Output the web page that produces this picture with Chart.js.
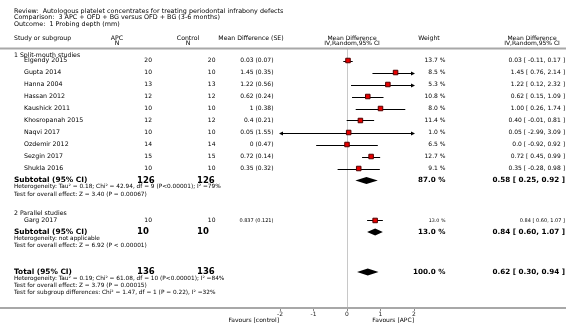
<!DOCTYPE html>
<html>
<head>
<meta charset="utf-8">
<script src="https://cdn.jsdelivr.net/npm/chart.js@4.4.0/dist/chart.umd.min.js"></script>
<style>
  html, body { margin: 0; padding: 0; background: #fff; }
  #forest { display: block; }
</style>
</head>
<body>
<canvas id="forest" width="566" height="332"></canvas>
<script>
// ---- data ----
var titleLines = [
  'Review:  Autologous platelet concentrates for treating periodontal infrabony defects',
  'Comparison:  3 APC + OFD + BG versus OFD + BG (3-6 months)',
  'Outcome:  1 Probing depth (mm)'
];

var studies = ['Elgendy 2015', 'Gupta 2014', 'Hanna 2004', 'Hassan 2012', 'Kaushick 2011',
  'Khosropanah 2015', 'Naqvi 2017', 'Ozdemir 2012', 'Sezgin 2017', 'Shukla 2016', 'Garg 2017'];
var apcN = [20, 10, 13, 12, 10, 12, 10, 14, 15, 10, 10];
var controlN = [20, 10, 13, 12, 10, 12, 10, 14, 15, 10, 10];
var mdSeText = ['0.03 (0.07)', '1.45 (0.35)', '1.22 (0.56)', '0.62 (0.24)', '1 (0.38)',
  '0.4 (0.21)', '0.05 (1.55)', '0 (0.47)', '0.72 (0.14)', '0.35 (0.32)', '0.837 (0.121)'];
var meanDiff = [0.03, 1.45, 1.22, 0.62, 1.00, 0.40, 0.05, 0.0, 0.72, 0.35, 0.84];
var ciLow = [-0.11, 0.76, 0.12, 0.15, 0.26, -0.01, -2.99, -0.92, 0.45, -0.28, 0.60];
var ciHigh = [0.17, 2.14, 2.32, 1.09, 1.74, 0.81, 3.09, 0.92, 0.99, 0.98, 1.07];
var weights = [13.7, 8.5, 5.3, 10.8, 8.0, 11.4, 1.0, 6.5, 12.7, 9.1, 13.0];
var ciText = ['0.03 [ -0.11, 0.17 ]', '1.45 [ 0.76, 2.14 ]', '1.22 [ 0.12, 2.32 ]',
  '0.62 [ 0.15, 1.09 ]', '1.00 [ 0.26, 1.74 ]', '0.40 [ -0.01, 0.81 ]', '0.05 [ -2.99, 3.09 ]',
  '0.0 [ -0.92, 0.92 ]', '0.72 [ 0.45, 0.99 ]', '0.35 [ -0.28, 0.98 ]', '0.84 [ 0.60, 1.07 ]'];

var pooledLabels = ['Subtotal (95% CI)', 'Subtotal (95% CI)', 'Total (95% CI)'];
var pooledApcN = [126, 10, 136];
var pooledControlN = [126, 10, 136];
var pooledMean = [0.58, 0.84, 0.62];
var pooledLow = [0.25, 0.60, 0.30];
var pooledHigh = [0.92, 1.07, 0.94];
var pooledWeight = ['87.0 %', '13.0 %', '100.0 %'];
var pooledCiText = ['0.58 [ 0.25, 0.92 ]', '0.84 [ 0.60, 1.07 ]', '0.62 [ 0.30, 0.94 ]'];

var groupNames = ['1 Split-mouth studies', '2 Parallel studies'];
var noteLines = [
  ['Heterogeneity: Tau\u00b2 = 0.18; Chi\u00b2 = 42.94, df = 9 (P<0.00001); I\u00b2 =79%',
   'Test for overall effect: Z = 3.40 (P = 0.00067)'],
  ['Heterogeneity: not applicable',
   'Test for overall effect: Z = 6.92 (P < 0.00001)'],
  ['Heterogeneity: Tau\u00b2 = 0.19; Chi\u00b2 = 61.08, df = 10 (P<0.00001); I\u00b2 =84%',
   'Test for overall effect: Z = 3.79 (P = 0.00015)',
   'Test for subgroup differences: Chi\u00b2 = 1.47, df = 1 (P = 0.22), I\u00b2 =32%']
];
var xTicks = [-2, -1, 0, 1, 2];
var favoursLeft = 'Favours [control]';
var favoursRight = 'Favours [APC]';

// ---- layout (row positions in line units, 1 unit = 12px) ----
var studyRows = [1, 2, 3, 4, 5, 6, 7, 8, 9, 10, 14.33];
var pooledRows = [11, 15.3, 18.62];
var groupRows = [0.55, 13.7];
var noteRows = [[11.5, 12.2], [15.85, 16.4], [19.2, 19.72, 20.35]];

var FONT = "'DejaVu Sans', Verdana, sans-serif";

var squares = studies.map(function (s, i) {
  return { x: meanDiff[i], y: studyRows[i] };
});

function font(size, bold) {
  return (bold ? 'bold ' : '') + size + 'px ' + FONT;
}

function txt(ctx, s, x, y, align, size, bold) {
  ctx.font = font(size, bold);
  ctx.textAlign = align;
  ctx.textBaseline = 'middle';
  ctx.fillText(s, x, y);
}

var forestPlugin = {
  id: 'forest',
  beforeDraw: function (chart) {
    var ctx = chart.ctx;
    ctx.save();
    ctx.fillStyle = '#fff';
    ctx.fillRect(0, 0, chart.width, chart.height);
    ctx.restore();
  },
  beforeDatasetsDraw: function (chart) {
    var ctx = chart.ctx, xs = chart.scales.x, ys = chart.scales.y, area = chart.chartArea;
    ctx.save();
    // line of no effect
    ctx.strokeStyle = '#c8c8c8';
    ctx.lineWidth = 1;
    var x0 = Math.round(xs.getPixelForValue(0)) + 0.5;
    ctx.beginPath();
    ctx.moveTo(x0, area.top);
    ctx.lineTo(x0, area.bottom);
    ctx.stroke();

    // confidence intervals
    ctx.strokeStyle = '#000';
    ctx.fillStyle = '#000';
    studies.forEach(function (s, i) {
      var y = Math.round(ys.getPixelForValue(studyRows[i])) + 0.5;
      var lo = Math.max(ciLow[i], xs.min), hi = Math.min(ciHigh[i], xs.max);
      var a = xs.getPixelForValue(lo), b = xs.getPixelForValue(hi);
      ctx.beginPath();
      ctx.moveTo(a, y);
      ctx.lineTo(b, y);
      ctx.stroke();
      if (ciHigh[i] > xs.max) {
        ctx.beginPath();
        ctx.moveTo(b + 1, y);
        ctx.lineTo(b - 3, y - 2);
        ctx.lineTo(b - 3, y + 2);
        ctx.closePath();
        ctx.fill();
      }
      if (ciLow[i] < xs.min) {
        ctx.beginPath();
        ctx.moveTo(a - 1, y);
        ctx.lineTo(a + 3, y - 2);
        ctx.lineTo(a + 3, y + 2);
        ctx.closePath();
        ctx.fill();
      }
    });

    // pooled diamonds
    pooledMean.forEach(function (m, i) {
      var y = ys.getPixelForValue(pooledRows[i]);
      ctx.beginPath();
      ctx.moveTo(xs.getPixelForValue(pooledLow[i]), y);
      ctx.lineTo(xs.getPixelForValue(m), y - 3.5);
      ctx.lineTo(xs.getPixelForValue(pooledHigh[i]), y);
      ctx.lineTo(xs.getPixelForValue(m), y + 3.5);
      ctx.closePath();
      ctx.fill();
    });
    ctx.restore();
  },
  afterDraw: function (chart) {
    var ctx = chart.ctx, xs = chart.scales.x, ys = chart.scales.y, area = chart.chartArea;
    var W = chart.width;
    ctx.save();
    // rules across the whole width
    ctx.strokeStyle = '#a8a8a8';
    ctx.lineWidth = 2;
    ctx.beginPath();
    ctx.moveTo(0, area.top);
    ctx.lineTo(W, area.top);
    ctx.moveTo(0, area.bottom);
    ctx.lineTo(W, area.bottom);
    ctx.stroke();

    ctx.fillStyle = '#000';
    titleLines.forEach(function (t, i) {
      txt(ctx, t, 14, 11.5 + i * 6.3, 'left', 6.4);
    });

    // column headers
    var hy1 = 38, hy2 = 43.5;
    txt(ctx, 'Study or subgroup', 14, hy1, 'left', 6.2);
    txt(ctx, 'APC', 117, hy1, 'center', 6.2);
    txt(ctx, 'N', 117, hy2, 'center', 6.2);
    txt(ctx, 'Control', 188, hy1, 'center', 6.2);
    txt(ctx, 'N', 188, hy2, 'center', 6.2);
    txt(ctx, 'Mean Difference (SE)', 251, hy1, 'center', 6.2);
    var xc = xs.getPixelForValue(0) + 5;
    txt(ctx, 'Mean Difference', xc, hy1, 'center', 6);
    txt(ctx, 'IV,Random,95% CI', xc, hy2, 'center', 6);
    txt(ctx, 'Weight', 429, hy1, 'center', 6.2);
    txt(ctx, 'Mean Difference', 532, hy1, 'center', 6);
    txt(ctx, 'IV,Random,95% CI', 532, hy2, 'center', 6);

    groupNames.forEach(function (g, i) {
      txt(ctx, g, 14, ys.getPixelForValue(groupRows[i]), 'left', 6.2);
    });

    studies.forEach(function (s, i) {
      var y = ys.getPixelForValue(studyRows[i]);
      var small = i === studies.length - 1;
      txt(ctx, s, 24, y, 'left', 6.3);
      txt(ctx, String(apcN[i]), 152, y, 'right', 6);
      txt(ctx, String(controlN[i]), 215.5, y, 'right', 6);
      txt(ctx, mdSeText[i], 273.5, y, 'right', small ? 5 : 6);
      txt(ctx, weights[i].toFixed(1) + ' %', 445.5, y, 'right', small ? 4.8 : 6);
      txt(ctx, ciText[i], 565, y, 'right', small ? 5 : 6);
    });

    pooledLabels.forEach(function (p, i) {
      var y = ys.getPixelForValue(pooledRows[i]);
      txt(ctx, p, 14, y, 'left', 7.4, true);
      txt(ctx, String(pooledApcN[i]), 137, y, 'left', 8.5, true);
      txt(ctx, String(pooledControlN[i]), 197, y, 'left', 8.5, true);
      txt(ctx, pooledWeight[i], 445.5, y, 'right', 7.2, true);
      txt(ctx, pooledCiText[i], 565, y, 'right', 7.2, true);
    });

    noteLines.forEach(function (lines, i) {
      lines.forEach(function (l, j) {
        txt(ctx, l, 14, ys.getPixelForValue(noteRows[i][j]), 'left', 5.8);
      });
    });

    txt(ctx, favoursLeft, xs.getPixelForValue(xs.min) - 1, 320, 'right', 6);
    txt(ctx, favoursRight, xs.getPixelForValue(xs.max), 320, 'right', 6);
    ctx.restore();
  }
};

var chart = new Chart(document.getElementById('forest'), {
  type: 'scatter',
  data: {
    datasets: [{
      label: 'Studies',
      data: squares,
      pointStyle: 'rect',
      pointRadius: 3.2,
      pointHoverRadius: 3.2,
      backgroundColor: '#e80000',
      borderColor: '#500000',
      borderWidth: 1
    }]
  },
  options: {
    animation: false,
    responsive: false,
    devicePixelRatio: 1,
    layout: { padding: { left: 280, right: 152, top: 48.5, bottom: 0 } },
    plugins: {
      legend: { display: false },
      tooltip: { enabled: false }
    },
    scales: {
      x: {
        type: 'linear',
        min: -2,
        max: 2,
        afterBuildTicks: function (scale) {
          scale.ticks = xTicks.map(function (v) { return { value: v }; });
        },
        afterFit: function (scale) { scale.height = 24; },
        grid: { display: true, drawOnChartArea: false, drawTicks: true, tickLength: 3, color: '#888' },
        border: { display: false },
        ticks: { font: { family: FONT, size: 6 }, color: '#222', padding: 0, maxRotation: 0 }
      },
      y: {
        type: 'linear',
        display: false,
        reverse: true,
        min: 0,
        max: 21.625
      }
    }
  },
  plugins: [forestPlugin]
});
</script>
</body>
</html>
